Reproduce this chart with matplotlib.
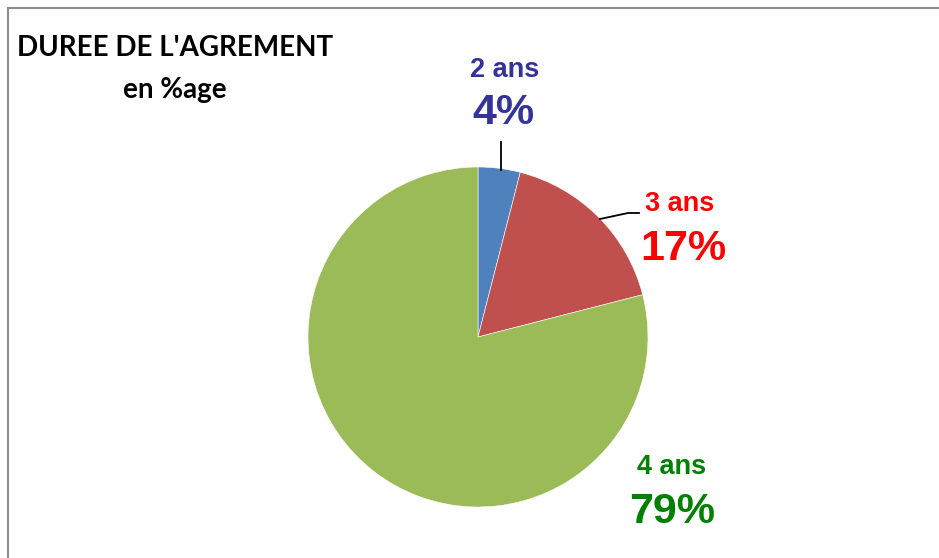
import matplotlib
matplotlib.use("Agg")
import matplotlib.pyplot as plt
from matplotlib.patches import Rectangle

categories = ["2 ans", "3 ans", "4 ans"]
values = [4, 17, 79]
pct_labels = ["4%", "17%", "79%"]
slice_colors = ["#4F81BD", "#C0504D", "#9BBB59"]
label_colors = ["#333399", "#FF0000", "#008000"]

W, H = 939, 558
fig = plt.figure(figsize=(W / 100, H / 100), dpi=100)
ax = fig.add_axes([0, 0, 1, 1])
ax.set_xlim(0, W)
ax.set_ylim(0, H)
ax.set_aspect("equal")
ax.axis("off")

# frame
ax.add_patch(Rectangle((7.5, -20), W + 20, H - 8 + 20, fill=False,
                       edgecolor="#8C8C8C", linewidth=1.5))

cx, cy, r = 478, H - 337, 170
ax.pie(values, colors=slice_colors, startangle=90, counterclock=False,
       center=(cx, cy), radius=r, frame=True,
       wedgeprops=dict(linewidth=0.4, edgecolor="white"))
ax.set_xlim(0, W)
ax.set_ylim(0, H)
ax.axis("off")

# title
tf = dict(family=["Lato", "DejaVu Sans"], weight="bold", color="black")
ax.text(17, H - 48, "DUREE DE L'AGREMENT", fontsize=20, ha="left", va="center", **tf)
ax.text(175, H - 90, "en %age", fontsize=20, ha="center", va="center", **tf)

lf = ["Liberation Sans", "DejaVu Sans"]
name_pos = [(505, 70), (680, 204), (672, 467)]
pct_pos = [(503, 113), (683, 249), (672, 512)]
for i in range(3):
    ax.text(name_pos[i][0], H - name_pos[i][1], categories[i], fontsize=19.5,
            weight="bold", family=lf, color=label_colors[i], ha="center", va="center")
    ax.text(pct_pos[i][0], H - pct_pos[i][1], pct_labels[i], fontsize=31,
            weight="bold", family=lf, color=label_colors[i], ha="center", va="center")

# leader lines
ax.plot([501, 501], [H - 142, H - 170], color="black", lw=1.3)
ax.plot([600, 628, 639], [H - 219, H - 213, H - 213], color="black", lw=1.3)

fig.savefig("out.png", dpi=100)
